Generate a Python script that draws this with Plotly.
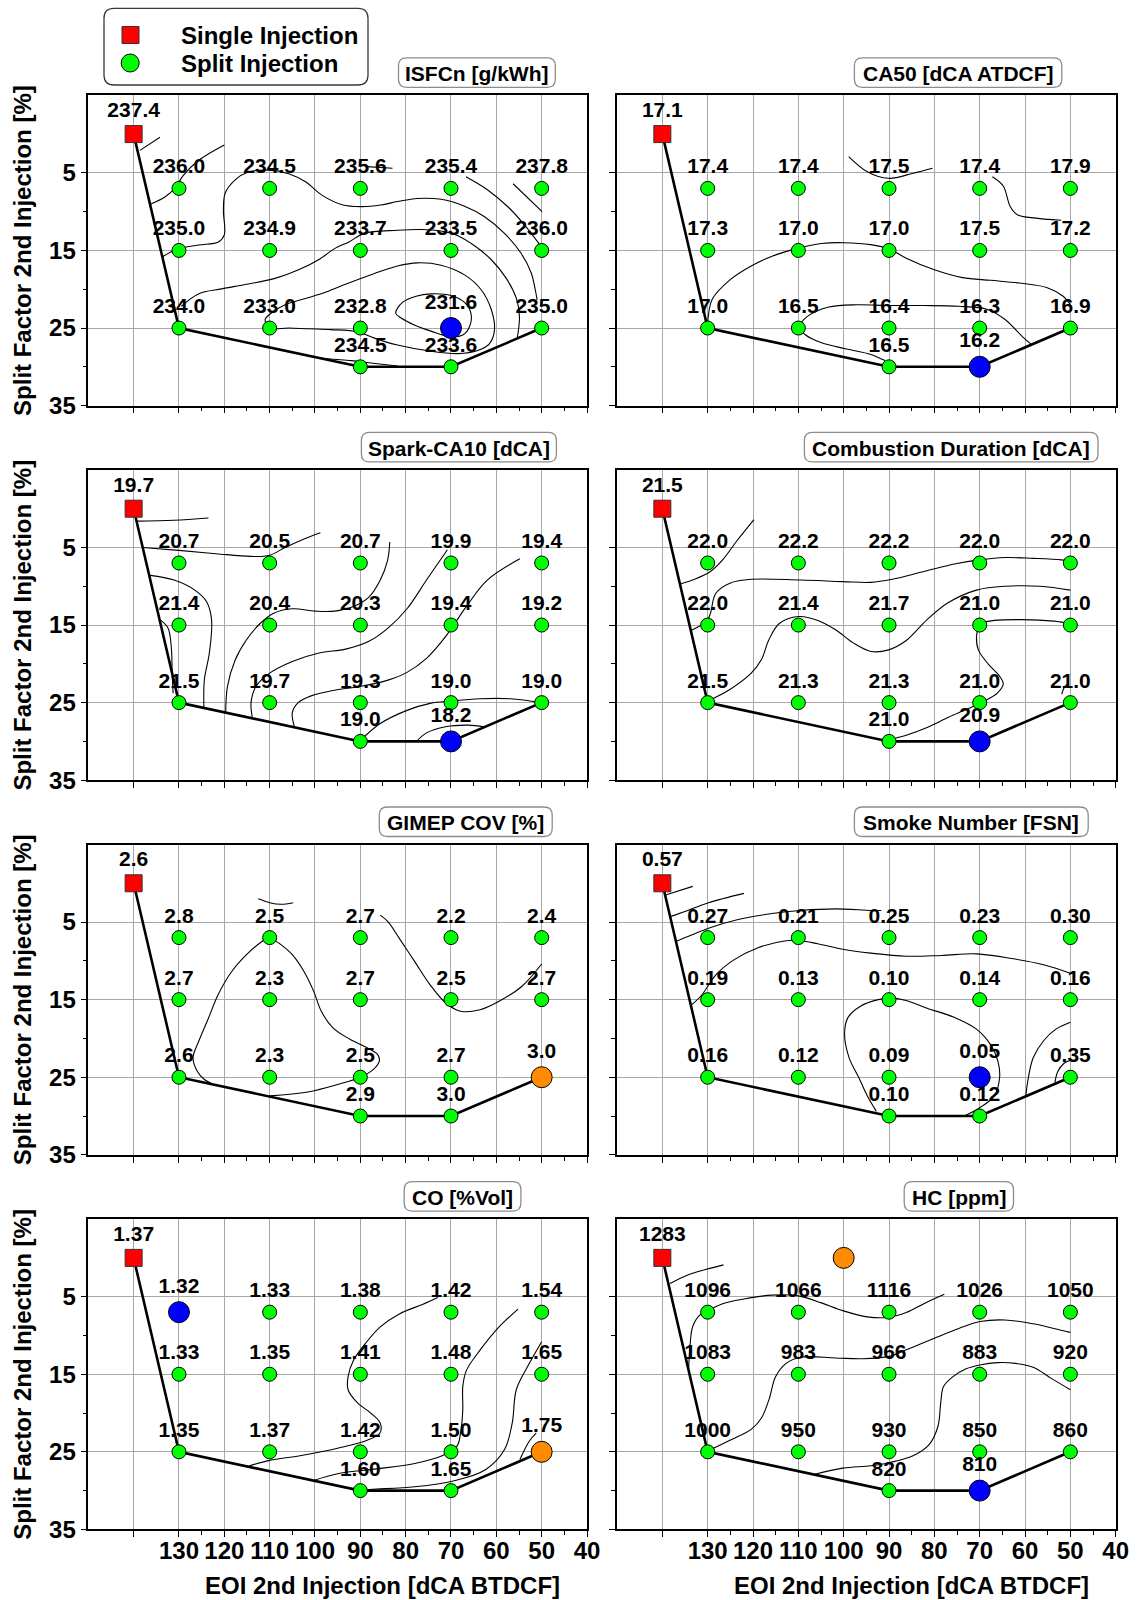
import plotly.graph_objects as go

W, H = 1142, 1600
FONT = "Liberation Sans, Arial, sans-serif"

# ---------------------------------------------------------------- operating points
SINGLE_EOI = [140]
SINGLE_SPLIT = [0]
SPLIT_EOI = [130, 110, 90, 70, 50, 130, 110, 90, 70, 50, 130, 110, 90, 70, 50, 90, 70]
SPLIT_FACTOR = [7, 7, 7, 7, 7, 15, 15, 15, 15, 15, 25, 25, 25, 25, 25, 30, 30]

# outline of the tested split-injection envelope
ENVELOPE_EOI = [140, 130, 90, 70, 50]
ENVELOPE_SPLIT = [0, 25, 30, 30, 25]

X_TICK_VALS = [140, 130, 120, 110, 100, 90, 80, 70, 60, 50, 40]
X_TICK_TEXT = ["", "130", "120", "110", "100", "90", "80", "70", "60", "50", "40"]
X_MINOR_VALS = [125, 115, 105, 95, 85, 75, 65, 55, 45]
Y_TICK_VALS = [5, 15, 25, 35]
Y_MINOR_VALS = [10, 20, 30]

# ---------------------------------------------------------------- measured values
ISFC_SINGLE = 237.4
ISFC_SPLIT = [236.0, 234.5, 235.6, 235.4, 237.8, 235.0, 234.9, 233.7, 233.5, 236.0,
              234.0, 233.0, 232.8, 231.6, 235.0, 234.5, 233.6]
CA50_SINGLE = 17.1
CA50_SPLIT = [17.4, 17.4, 17.5, 17.4, 17.9, 17.3, 17.0, 17.0, 17.5, 17.2,
              17.0, 16.5, 16.4, 16.3, 16.9, 16.5, 16.2]
SPARK_SINGLE = 19.7
SPARK_SPLIT = [20.7, 20.5, 20.7, 19.9, 19.4, 21.4, 20.4, 20.3, 19.4, 19.2,
               21.5, 19.7, 19.3, 19.0, 19.0, 19.0, 18.2]
COMB_SINGLE = 21.5
COMB_SPLIT = [22.0, 22.2, 22.2, 22.0, 22.0, 22.0, 21.4, 21.7, 21.0, 21.0,
              21.5, 21.3, 21.3, 21.0, 21.0, 21.0, 20.9]
COV_SINGLE = 2.6
COV_SPLIT = [2.8, 2.5, 2.7, 2.2, 2.4, 2.7, 2.3, 2.7, 2.5, 2.7,
             2.6, 2.3, 2.5, 2.7, 3.0, 2.9, 3.0]
FSN_SINGLE = 0.57
FSN_SPLIT = [0.27, 0.21, 0.25, 0.23, 0.30, 0.19, 0.13, 0.10, 0.14, 0.16,
             0.16, 0.12, 0.09, 0.05, 0.35, 0.10, 0.12]
CO_SINGLE = 1.37
CO_SPLIT = [1.32, 1.33, 1.38, 1.42, 1.54, 1.33, 1.35, 1.41, 1.48, 1.65,
            1.35, 1.37, 1.42, 1.50, 1.75, 1.60, 1.65]
HC_SINGLE = 1283
HC_SPLIT = [1096, 1066, 1116, 1026, 1050, 1083, 983, 966, 883, 920,
            1000, 950, 930, 850, 860, 820, 810]
HC_EXTRA_EOI = [100]
HC_EXTRA_SPLIT = [0]

# ---------------------------------------------------------------- iso-lines (EOI, split)
ISFC_LINES = [
    ([138.6, 134.2], [2.1, 0.4]),
    ([136.2, 133.1, 130.9, 129.0, 125.7, 120.0], [9.0, 8.1, 7.0, 5.3, 3.4, 1.4]),
    ([133.6, 130.3, 125.7, 121.3, 120.0, 120.2, 119.8, 117.6, 114.7, 110.2, 105.8, 102.1, 98.4,
      94.0, 89.9, 85.5, 81.8, 77.4, 72.2, 67.0, 62.6, 58.2, 54.5, 52.3, 51.4, 51.0],
     [15.8, 14.8, 14.3, 13.9, 13.0, 9.8, 7.6, 5.9, 4.9, 4.65, 5.1, 6.15, 7.9,
      9.1, 9.35, 9.15, 8.7, 8.3, 8.4, 9.3, 10.65, 12.8, 15.4, 17.9, 20.1, 21.4]),
    ([66.7, 61.9, 57.4, 53.8, 50.1], [5.5, 7.2, 9.4, 11.7, 14.5]),
    ([56.3, 49.9], [6.4, 10.0]),
    ([88.5, 82.9], [4.2, 4.4]),
    ([129.5, 125.7, 120.6, 115.4, 108.8, 103.6, 99.2, 95.5, 92.5, 89.2, 81.8, 76.6, 72.2,
      68.5, 64.8, 61.1, 57.8, 55.6, 54.9, 55.4],
     [22.2, 20.6, 19.95, 19.4, 18.6, 17.5, 16.2, 14.7, 13.9, 12.8, 12.4, 12.3, 12.5,
      13.1, 14.4, 16.2, 18.6, 21.15, 23.5, 26.35]),
    ([110.0, 111.0, 109.7, 106.6, 102.1, 97.7, 93.0, 87.0, 81.8, 77.4, 72.2, 67.0, 63.3, 61.1,
      60.4, 61.5, 64.1, 68.5, 74.4, 81.8, 86.9, 90.5, 96.5, 101.5, 105.8, 110.0],
     [25.0, 23.9, 23.1, 22.0, 21.2, 20.4, 19.3, 18.0, 17.0, 16.6, 16.9, 18.15, 20.1, 22.65,
      25.2, 27.0, 27.9, 28.3, 28.0, 27.2, 26.3, 25.5, 25.2, 25.1, 25.0, 25.0]),
    ([99.5, 96.5, 92.0, 87.7, 81.8], [28.8, 29.0, 29.2, 29.5, 29.9]),
    ([82.2, 80.7, 77.7, 74.4, 70.0, 67.0, 65.6, 65.9, 67.4, 70.4, 74.4, 78.1, 81.0, 82.2],
     [23.1, 21.7, 20.9, 20.6, 20.8, 21.7, 23.1, 24.8, 25.9, 26.1, 25.4, 24.6, 23.7, 23.1]),
]

CA50_LINES = [
    ([98.9, 94.8, 90.1, 84.7, 80.4], [2.9, 4.85, 5.7, 5.05, 4.4]),
    ([67.2, 64.8, 63.3, 61.7, 58.2, 52.0], [5.5, 6.7, 9.3, 10.4, 10.8, 11.1]),
    ([130.0, 129.0, 125.1, 120.4, 115.8, 110.0, 104.9, 100.0, 94.0, 90.0, 86.2, 80.0, 73.8,
      67.6, 61.3, 55.1, 51.6, 50.0],
     [24.6, 21.3, 18.8, 17.0, 15.75, 14.7, 14.1, 14.0, 14.25, 14.8, 16.0, 17.5, 18.5,
      18.85, 19.2, 19.8, 20.9, 22.0]),
    ([110.0, 108.0, 103.3, 97.1, 90.0, 82.3, 74.6, 68.3, 64.4, 60.6, 58.6],
     [24.8, 23.5, 22.3, 22.0, 22.1, 22.1, 22.2, 22.6, 23.9, 26.1, 27.1]),
    ([110.0, 108.4, 104.9, 99.4, 94.0, 90.9], [24.8, 25.9, 26.9, 27.7, 28.4, 29.2]),
]

SPARK_LINES = [
    ([139.5, 131.1, 123.5], [1.6, 1.5, 1.2]),
    ([138.0, 129.4, 121.8, 114.2, 110.0, 106.6, 102.4, 98.8], [5.0, 5.4, 5.8, 6.15, 6.0, 5.0, 3.9, 3.1]),
    ([136.4, 131.1, 126.5, 123.9, 122.8, 123.3, 124.4, 124.5], [8.6, 9.2, 10.5, 12.0, 14.4, 18.6, 22.05, 25.7]),
    ([134.0, 132.4, 131.7, 131.5, 131.3], [14.4, 15.4, 17.8, 21.2, 23.8]),
    ([119.7, 119.3, 117.6, 115.1, 112.1, 109.2, 105.0, 99.9, 95.7, 91.5, 88.1, 85.6, 84.0, 83.5],
     [26.3, 22.9, 19.5, 16.9, 14.8, 13.5, 12.9, 13.2, 13.2, 12.6, 11.4, 9.2, 6.7, 4.3]),
    ([113.8, 114.1, 113.0, 110.0, 105.0, 99.1, 93.2, 88.1, 83.9, 79.7, 75.4, 70.8],
     [27.0, 25.0, 22.9, 21.2, 19.7, 18.6, 18.1, 17.1, 15.4, 12.9, 9.2, 5.3]),
    ([104.5, 105.0, 103.7, 100.7, 95.7, 89.8, 83.9, 79.7, 75.4, 71.2, 66.6, 62.0, 54.8],
     [28.2, 26.3, 25.0, 24.1, 23.4, 22.9, 22.1, 21.1, 19.3, 16.5, 12.6, 9.2, 6.45]),
    ([90.0, 85.6, 79.7, 74.6, 70.0, 63.6, 56.9, 50.0], [29.9, 27.7, 26.0, 25.1, 24.8, 24.5, 24.5, 25.0]),
    ([77.6, 75.4, 71.2, 66.2, 62.6], [30.0, 28.9, 28.1, 27.9, 28.1]),
]

COMB_LINES = [
    ([136.0, 132.9, 129.4, 126.7, 123.5, 119.8], [9.7, 9.1, 8.1, 6.6, 4.1, 1.4]),
    ([133.7, 130.2, 129.4, 128.2, 125.1, 120.4, 109.5, 100.2, 94.0, 89.3, 82.3, 75.3, 70.0,
      64.4, 58.2, 52.0, 50.0],
     [15.7, 14.5, 13.5, 10.9, 9.6, 9.1, 9.2, 9.4, 9.5, 9.1, 8.1, 7.1, 6.6,
      6.3, 6.4, 6.6, 6.8]),
    ([130.0, 125.1, 120.4, 118.1, 116.5, 114.2, 110.0, 105.7, 101.8, 97.9, 94.0, 90.1, 86.2,
      81.6, 76.9, 70.7, 64.4, 56.7, 50.0],
     [24.8, 23.3, 21.2, 19.4, 16.9, 14.8, 13.9, 14.4, 15.6, 17.3, 18.4, 18.2, 17.0,
      14.3, 12.1, 10.5, 10.0, 10.0, 10.5]),
    ([70.0, 66.8, 60.6, 53.6, 50.0], [14.8, 14.4, 14.3, 14.5, 14.8]),
    ([70.0, 70.7, 70.3, 68.0, 65.6, 64.8, 66.0, 68.0, 70.0, 73.0, 76.9, 81.6, 86.2, 90.0],
     [14.8, 16.45, 18.2, 20.1, 21.6, 22.6, 23.7, 24.5, 25.1, 25.9, 26.9, 28.2, 29.2, 29.8]),
    ([51.9, 51.2, 50.3], [23.9, 22.9, 22.5]),
]

COV_LINES = [
    ([112.5, 110.0, 107.5, 104.8], [2.0, 2.5, 2.7, 2.5]),
    ([110.0, 101.6, 94.8, 90.0, 87.1, 85.8, 86.2, 88.5, 92.3, 96.1, 98.6, 100.3, 102.4, 105.0,
      107.5, 109.6, 110.0],
     [27.4, 26.9, 25.9, 25.0, 24.0, 22.9, 22.05, 21.2, 20.1, 18.6, 16.5, 13.9, 11.4, 9.2,
      7.9, 7.1, 6.9]),
    ([110.0, 111.7, 115.1, 118.4, 121.4, 123.5, 125.6, 126.9, 126.0, 124.4, 122.8],
     [6.9, 7.5, 9.2, 11.4, 14.4, 17.4, 20.3, 22.5, 24.2, 25.3, 25.8]),
    ([85.6, 83.9, 81.4, 78.0, 74.6, 71.2, 67.9, 63.6, 59.4, 54.4, 50.0],
     [4.1, 4.95, 7.1, 10.1, 13.1, 15.4, 16.5, 16.3, 15.2, 13.3, 10.4]),
]

FSN_LINES = [
    ([139.3, 133.3], [1.5, 0.4]),
    ([138.2, 134.4, 129.8, 122.0], [4.3, 3.5, 2.5, 1.3]),
    ([137.0, 133.7, 129.8, 123.5, 115.8, 109.5, 101.8, 94.0, 91.7], [7.5, 6.7, 5.8, 4.7, 3.9, 3.5, 3.3, 3.5, 3.5]),
    ([133.6, 131.3, 128.2, 124.3, 118.9, 112.7, 109.5, 105.7, 100.2, 94.0, 86.2, 78.4, 70.7,
      62.9, 55.9, 50.0],
     [15.7, 14.4, 11.8, 9.9, 8.3, 7.4, 7.4, 7.8, 8.5, 9.0, 9.4, 9.3, 9.1,
      9.7, 10.5, 11.6]),
    ([92.8, 94.8, 96.7, 98.8, 99.8, 99.1, 96.3, 92.4, 90.0, 86.2, 81.6, 75.3, 70.7, 67.6, 66.0,
      65.6, 66.8, 69.9, 73.4],
     [29.4, 27.4, 25.0, 22.5, 19.5, 17.35, 15.85, 15.0, 14.8, 15.1, 16.1, 17.35, 18.8, 20.8, 22.9,
      25.0, 27.4, 28.9, 30.0]),
    ([59.8, 59.4, 58.2, 55.9, 53.2, 50.0], [27.3, 25.5, 22.5, 20.3, 18.8, 17.9]),
    ([53.4, 52.8, 51.4, 50.0], [25.7, 24.3, 23.2, 22.8]),
]

CO_LINES = [
    ([72.9, 76.3, 81.3, 85.6, 88.9, 91.5, 92.7, 92.7, 90.6, 87.7, 85.6, 85.7, 88.5, 94.8,
      103.3, 110.0, 114.7],
     [5.1, 6.0, 7.2, 8.9, 11.05, 13.2, 15.3, 17.0, 18.7, 20.0, 21.3, 22.6, 23.5, 24.5,
      25.5, 26.1, 26.85]),
    ([55.2, 59.4, 63.6, 66.6, 67.4, 67.4, 67.9, 68.7, 72.1, 78.0, 86.4, 94.8, 100.3],
     [6.6, 8.9, 11.9, 14.5, 16.6, 19.6, 22.6, 24.3, 25.55, 26.5, 27.2, 27.8, 28.7]),
    ([50.0, 53.1, 55.6, 56.5, 58.2, 62.4, 69.5, 78.0, 86.4, 90.0],
     [10.8, 14.0, 17.0, 21.3, 24.7, 27.3, 28.75, 29.5, 29.8, 29.9]),
    ([51.2, 52.7, 54.8], [22.6, 23.6, 26.0]),
]

HC_LINES = [
    ([138.3, 134.4, 130.5, 126.5], [3.3, 2.2, 1.5, 0.9]),
    ([134.2, 133.9, 133.3, 131.7, 130.0, 126.7, 122.0, 115.8, 110.0, 104.9, 100.2, 94.8, 90.0,
      86.2, 82.3, 77.8],
     [14.3, 11.4, 8.85, 7.35, 6.8, 5.9, 5.3, 4.8, 4.9, 5.8, 6.8, 7.6, 7.65,
      7.05, 5.9, 4.7]),
    ([130.0, 125.1, 120.4, 118.1, 116.5, 115.0, 112.7, 109.5, 101.8, 95.9, 90.0, 86.2, 80.0,
      74.6, 69.9, 64.4, 58.2, 53.6, 50.0],
     [24.9, 23.5, 22.1, 20.6, 18.3, 15.3, 13.6, 12.8, 12.9, 13.0, 12.7, 11.85, 10.35,
      9.1, 8.2, 8.0, 8.5, 9.1, 9.6]),
    ([106.4, 100.2, 94.0, 90.0, 84.7, 81.2, 79.2, 78.6, 78.0, 76.1, 73.0, 70.0, 66.0, 62.1,
      58.2, 54.3, 50.0],
     [27.9, 27.1, 26.8, 26.4, 25.5, 24.1, 21.7, 18.7, 16.6, 15.4, 14.3, 13.8, 13.5, 13.6,
      14.1, 15.5, 17.0]),
]

# index into SPLIT_* of the best (blue) and worst (orange) split point per quantity
PANELS = [
    dict(title="ISFCn [g/kWh]", single=ISFC_SINGLE, split=ISFC_SPLIT, fmt="{:.1f}", best=[13], worst=[], lines=ISFC_LINES),
    dict(title="CA50 [dCA ATDCF]", single=CA50_SINGLE, split=CA50_SPLIT, fmt="{:.1f}", best=[16], worst=[], lines=CA50_LINES),
    dict(title="Spark-CA10 [dCA]", single=SPARK_SINGLE, split=SPARK_SPLIT, fmt="{:.1f}", best=[16], worst=[], lines=SPARK_LINES),
    dict(title="Combustion Duration [dCA]", single=COMB_SINGLE, split=COMB_SPLIT, fmt="{:.1f}", best=[16], worst=[], lines=COMB_LINES),
    dict(title="GIMEP COV [%]", single=COV_SINGLE, split=COV_SPLIT, fmt="{:.1f}", best=[], worst=[14], lines=COV_LINES),
    dict(title="Smoke Number [FSN]", single=FSN_SINGLE, split=FSN_SPLIT, fmt="{:.2f}", best=[13], worst=[], lines=FSN_LINES),
    dict(title="CO [%Vol]", single=CO_SINGLE, split=CO_SPLIT, fmt="{:.2f}", best=[0], worst=[14], lines=CO_LINES),
    dict(title="HC [ppm]", single=HC_SINGLE, split=HC_SPLIT, fmt="{:.0f}", best=[16], worst=[], lines=HC_LINES),
]

# ---------------------------------------------------------------- page geometry (px)
COL_X = [(88.3, 587.0), (617.0, 1115.7)]
ROW_TOP = [95.3, 469.9, 844.5, 1219.1]
PANEL_H = 310.3
TITLE_BOX_X = [(398.5, 555.3), (854.4, 1061.8), (361.4, 556.4), (804.4, 1098.0),
               (379.3, 552.2), (854.4, 1088.2), (404.2, 520.9), (904.2, 1013.5)]

GREEN, BLUE, ORANGE, RED = "#00FF00", "#0000FF", "#FF8C00", "#FF0000"
GRID = "#A8A8A8"


def px(x):
    return x / W


def py(y):
    return 1 - y / H


def rounded_box(x0, y0, x1, y1, r, color, width):
    def P(x, y):
        return f"{px(x):.5f},{py(y):.5f}"
    path = (f"M{P(x0 + r, y0)} L{P(x1 - r, y0)} Q{P(x1, y0)} {P(x1, y0 + r)} "
            f"L{P(x1, y1 - r)} Q{P(x1, y1)} {P(x1 - r, y1)} L{P(x0 + r, y1)} "
            f"Q{P(x0, y1)} {P(x0, y1 - r)} L{P(x0, y0 + r)} Q{P(x0, y0)} {P(x0 + r, y0)} Z")
    return dict(type="path", xref="paper", yref="paper", path=path,
                line=dict(color=color, width=width), fillcolor="white", layer="below")


fig = go.Figure()
shapes, annotations = [], []
tick_font = dict(family=FONT, size=24, color="black", weight="bold")

for i, p in enumerate(PANELS):
    row, col = divmod(i, 2)
    n = i + 1
    xref = "x" if n == 1 else f"x{n}"
    yref = "y" if n == 1 else f"y{n}"
    x0, x1 = COL_X[col]
    top = ROW_TOP[row]
    bot = top + PANEL_H

    fig.update_layout(**{
        ("xaxis" if n == 1 else f"xaxis{n}"): dict(
            domain=[px(x0), px(x1)], anchor=yref, range=[150, 40], automargin=False,
            tickmode="array", tickvals=X_TICK_VALS, ticktext=X_TICK_TEXT,
            showticklabels=(row == 3), tickfont=tick_font, ticklabelstandoff=-7,
            showgrid=True, gridcolor=GRID, gridwidth=1, zeroline=False,
            ticks="outside", ticklen=6, tickcolor="black", tickwidth=1,
            showline=True, linecolor="black", linewidth=1.5, mirror=True,
            minor=dict(tickvals=X_MINOR_VALS, ticks="outside", ticklen=4,
                       tickcolor="black", showgrid=False),
        ),
        ("yaxis" if n == 1 else f"yaxis{n}"): dict(
            domain=[py(bot), py(top)], anchor=xref, range=[35, -5], automargin=False,
            tickmode="array", tickvals=Y_TICK_VALS,
            showticklabels=(col == 0), tickfont=tick_font, ticklabelstandoff=0,
            showgrid=True, gridcolor=GRID, gridwidth=1, zeroline=False,
            ticks="outside", ticklen=6, tickcolor="black", tickwidth=1,
            showline=True, linecolor="black", linewidth=1.5, mirror=True,
            minor=dict(tickvals=Y_MINOR_VALS, ticks="outside", ticklen=4,
                       tickcolor="black", showgrid=False),
        ),
    })

    # iso-lines
    for lx, ly in p["lines"]:
        fig.add_trace(go.Scatter(x=lx, y=ly, xaxis=xref, yaxis=yref, mode="lines",
                                 line=dict(color="black", width=1.1, shape="spline", smoothing=1.0),
                                 hoverinfo="skip", showlegend=False))

    # envelope
    fig.add_trace(go.Scatter(x=ENVELOPE_EOI, y=ENVELOPE_SPLIT, xaxis=xref, yaxis=yref,
                             mode="lines", line=dict(color="black", width=2.6),
                             hoverinfo="skip", showlegend=False))

    # split injection points with their values
    colors = [GREEN] * len(SPLIT_EOI)
    sizes = [14] * len(SPLIT_EOI)
    for k in p["best"]:
        colors[k], sizes[k] = BLUE, 21
    for k in p["worst"]:
        colors[k], sizes[k] = ORANGE, 21
    fig.add_trace(go.Scatter(
        x=SPLIT_EOI, y=SPLIT_FACTOR, xaxis=xref, yaxis=yref, mode="markers+text",
        marker=dict(color=colors, size=sizes, opacity=1, symbol="circle",
                    line=dict(color="black", width=1)),
        text=[p["fmt"].format(v) for v in p["split"]], textposition="top center",
        textfont=dict(family=FONT, size=21, color="black", weight="bold"),
        cliponaxis=False, showlegend=False, name="Split Injection"))

    # single injection reference
    fig.add_trace(go.Scatter(
        x=SINGLE_EOI, y=SINGLE_SPLIT, xaxis=xref, yaxis=yref, mode="markers+text",
        marker=dict(color=RED, size=17, opacity=1, symbol="square",
                    line=dict(color="#333333", width=1)),
        text=[p["fmt"].format(p["single"])], textposition="top center",
        textfont=dict(family=FONT, size=21, color="black", weight="bold"),
        cliponaxis=False, showlegend=False, name="Single Injection"))

    if i == 7:
        fig.add_trace(go.Scatter(
            x=HC_EXTRA_EOI, y=HC_EXTRA_SPLIT, xaxis=xref, yaxis=yref, mode="markers",
            marker=dict(color=ORANGE, size=21, opacity=1, line=dict(color="black", width=1)),
            cliponaxis=False, showlegend=False, hoverinfo="skip"))

    # panel title in a rounded frame
    bx0, bx1 = TITLE_BOX_X[i]
    by0, by1 = top - 37.5, top - 8.0
    shapes.append(rounded_box(bx0, by0, bx1, by1, 8, "#8C8C8C", 1.3))
    annotations.append(dict(xref="paper", yref="paper", x=px((bx0 + bx1) / 2), y=py((by0 + by1) / 2 + 1),
                            text=p["title"], showarrow=False, xanchor="center", yanchor="middle",
                            font=dict(family=FONT, size=21, color="black", weight="bold")))

    # axis titles
    if col == 0:
        annotations.append(dict(xref="paper", yref="paper", x=px(22.5), y=py((top + bot) / 2),
                                text="Split Factor 2nd Injection [%]", textangle=-90, showarrow=False,
                                xanchor="center", yanchor="middle",
                                font=dict(family=FONT, size=24, color="black", weight="bold")))
    if row == 3:
        xc = x0 + (150 - 85) / 110 * (x1 - x0)
        annotations.append(dict(xref="paper", yref="paper", x=px(xc), y=py(1585),
                                text="EOI 2nd Injection [dCA BTDCF]", showarrow=False,
                                xanchor="center", yanchor="middle",
                                font=dict(family=FONT, size=24, color="black", weight="bold")))

# legend frame with symbols
shapes.append(rounded_box(104, 8.3, 368, 85, 10, "#3A3A3A", 1.3))
shapes.append(dict(type="rect", xref="paper", yref="paper",
                   x0=px(130.5 - 8.5), x1=px(130.5 + 8.5), y0=py(35 + 8.5), y1=py(35 - 8.5),
                   fillcolor=RED, line=dict(color="#333333", width=1), layer="above"))
shapes.append(dict(type="circle", xref="paper", yref="paper",
                   x0=px(130.2 - 9), x1=px(130.2 + 9), y0=py(63 + 9), y1=py(63 - 9),
                   fillcolor=GREEN, line=dict(color="black", width=1), layer="above"))
for label, yc in (("Single Injection", 35), ("Split Injection", 62.5)):
    annotations.append(dict(xref="paper", yref="paper", x=px(178.5), y=py(yc + 1), text=label,
                            showarrow=False, xanchor="left", yanchor="middle",
                            font=dict(family=FONT, size=24, color="black", weight="bold")))

fig.update_layout(width=W, height=H,
                  margin=dict(l=0, r=0, t=0, b=0, pad=0, autoexpand=False),
                  paper_bgcolor="white", plot_bgcolor="white", showlegend=False,
                  shapes=shapes, annotations=annotations)

fig.write_html("out.html")
